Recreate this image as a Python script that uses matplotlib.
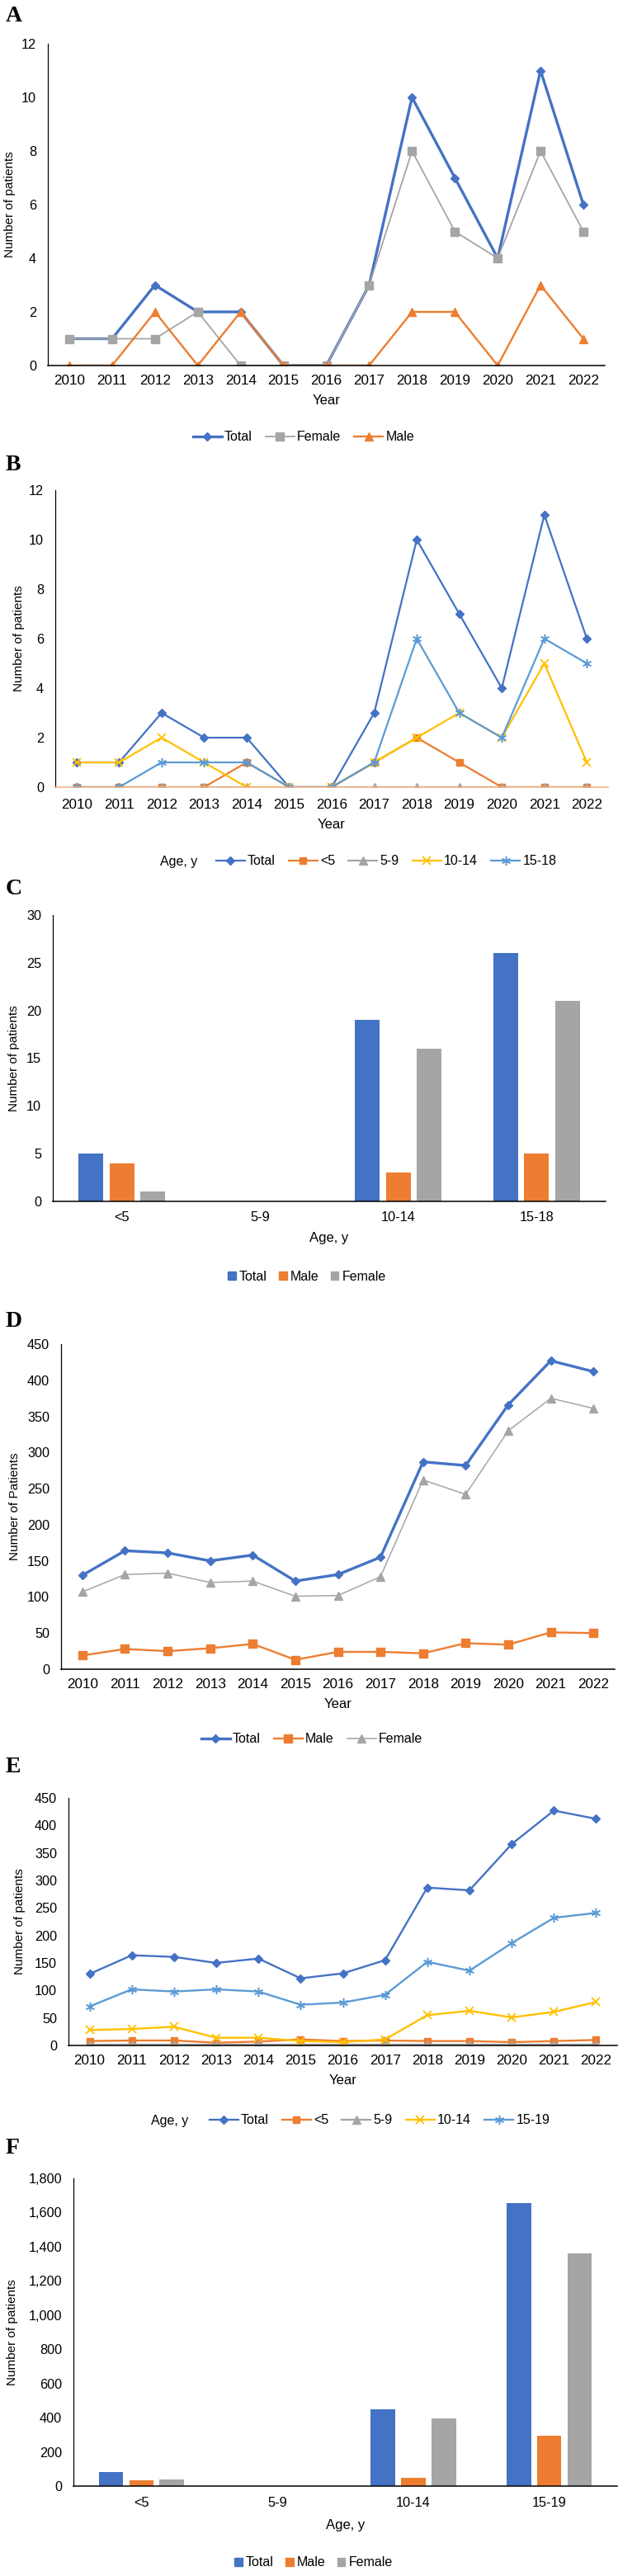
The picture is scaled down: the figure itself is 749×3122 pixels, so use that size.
import numpy as np
import matplotlib
matplotlib.use("Agg")
import matplotlib.pyplot as plt
from matplotlib.patches import Patch
from matplotlib.ticker import FuncFormatter

plt.rcParams['font.family'] = ['Liberation Sans', 'DejaVu Sans']

# ---- data ----
years = ['2010', '2011', '2012', '2013', '2014', '2015', '2016',
         '2017', '2018', '2019', '2020', '2021', '2022']

# A: by sex
a_total = [1, 1, 3, 2, 2, 0, 0, 3, 10, 7, 4, 11, 6]
a_female = [1, 1, 1, 2, 0, 0, 0, 3, 8, 5, 4, 8, 5]
a_male = [0, 0, 2, 0, 2, 0, 0, 0, 2, 2, 0, 3, 1]

# B: by age group
b_lt5 = [0, 0, 0, 0, 1, 0, 0, 1, 2, 1, 0, 0, 0]
b_5_9 = [0, 0, 0, 0, 0, 0, 0, 0, 0, 0, 0, 0, 0]
b_10_14 = [1, 1, 2, 1, 0, 0, 0, 1, 2, 3, 2, 5, 1]
b_15_18 = [0, 0, 1, 1, 1, 0, 0, 1, 6, 3, 2, 6, 5]

# C: totals by age group and sex
c_groups = ['<5', '5-9', '10-14', '15-18']
c_total = [5, 0, 19, 26]
c_male = [4, 0, 3, 5]
c_female = [1, 0, 16, 21]

# D: patients by sex
d_total = [130, 164, 161, 150, 158, 122, 131, 155, 287, 282, 366, 427, 412]
d_male = [19, 28, 25, 29, 35, 13, 24, 24, 22, 36, 34, 51, 50]
d_female = [107, 131, 133, 120, 122, 101, 102, 128, 262, 242, 330, 375, 361]

# E: patients by age group
e_lt5 = [8, 9, 9, 5, 7, 11, 8, 9, 8, 8, 6, 8, 10]
e_5_9 = [1, 1, 1, 1, 1, 1, 1, 1, 1, 1, 1, 1, 1]
e_10_14 = [28, 30, 34, 14, 14, 8, 6, 11, 55, 63, 51, 61, 79]
e_15_19 = [71, 102, 98, 102, 98, 74, 78, 92, 152, 136, 186, 232, 241]

# F: totals by age group and sex
f_groups = ['<5', '5-9', '10-14', '15-19']
f_total = [82, 0, 450, 1657]
f_male = [36, 0, 47, 294]
f_female = [41, 0, 394, 1360]

BLUE = '#4472C4'
ORANGE = '#ED7D31'
GRAY = '#A5A5A5'
GOLD = '#FFC000'
LBLUE = '#5B9BD5'

W, H = 749, 3122
fig = plt.figure(figsize=(W / 100, H / 100), dpi=100)


def add_ax(l, r, t, b):
    return fig.add_axes([l / W, 1 - b / H, (r - l) / W, (b - t) / H])


def style(ax, l, r, t, b, ylab_x, xlab_off, tick_off, xlabel, ylabel,
          bottom_color='black'):
    # xlab_off / tick_off: centre of the text, px below the x axis
    ax.spines['top'].set_visible(False)
    ax.spines['right'].set_visible(False)
    ax.spines['left'].set_linewidth(0.9)
    ax.spines['bottom'].set_linewidth(1.1)
    ax.spines['bottom'].set_color(bottom_color)
    ax.tick_params(axis='both', length=0)
    ax.tick_params(axis='y', pad=10, labelsize=11.7)
    ax.tick_params(axis='x', pad=(tick_off - 9.5) * 0.72, labelsize=12.3)
    ax.set_xlabel(xlabel, fontsize=12)
    ax.set_ylabel(ylabel, fontsize=11)
    ax.xaxis.set_label_coords(0.5, -(xlab_off - 9.5) / (b - t))
    ax.yaxis.set_label_coords((ylab_x + 7.5 - l) / (r - l), 0.5)


def panel_label(txt, y):
    fig.text(7 / W, 1 - y / H, txt, ha='left', va='center',
             fontsize=20, fontweight='bold', family='Liberation Serif')


def line_legend(handles, labels, x, y):
    fig.legend(handles, labels, loc='center', bbox_to_anchor=(x / W, 1 - y / H),
               ncol=len(labels), frameon=False, fontsize=11.5,
               handlelength=2.2, handletextpad=0.2, columnspacing=1.0)


def bar_legend(x, y):
    handles = [Patch(color=BLUE), Patch(color=ORANGE), Patch(color=GRAY)]
    fig.legend(handles, ['Total', 'Male', 'Female'], loc='center',
               bbox_to_anchor=(x / W, 1 - y / H), ncol=3, frameon=False,
               fontsize=11.5, handlelength=0.6, handleheight=0.6,
               handletextpad=0.25, columnspacing=0.9)


x = np.arange(len(years))

# ---------------- A ----------------
panel_label('A', 20)
ax = add_ax(58, 733, 53, 443)
h1, = ax.plot(x, a_total, color=BLUE, lw=2.4, marker='D', ms=5.5)
h2, = ax.plot(x, a_female, color=GRAY, lw=1.3, marker='s', ms=6.5)
h3, = ax.plot(x, a_male, color=ORANGE, lw=1.7, marker='^', ms=7)
ax.set_xlim(-0.5, 12.5)
ax.set_ylim(0, 12)
ax.set_yticks(range(0, 13, 2))
ax.set_xticks(x, years)
style(ax, 58, 733, 53, 443, 12, 44, 20, 'Year', 'Number of patients')
line_legend([h1, h2, h3], ['Total', 'Female', 'Male'], 368, 530)

# ---------------- B ----------------
panel_label('B', 563)
ax = add_ax(67, 737, 594, 954)
h1, = ax.plot(x, a_total, color=BLUE, lw=1.6, marker='D', ms=5.5)
h2, = ax.plot(x, b_lt5, color=ORANGE, lw=1.6, marker='s', ms=6)
h3, = ax.plot(x, b_5_9, color=GRAY, lw=1.6, marker='^', ms=6.5)
h4, = ax.plot(x, b_10_14, color=GOLD, lw=1.6, marker='x', ms=7, mew=1.3)
h5, = ax.plot(x, b_15_18, color=LBLUE, lw=1.6, marker=(6, 2, 0), ms=8, mew=1.1)
ax.set_xlim(-0.5, 12.5)
ax.set_ylim(0, 12)
ax.set_yticks(range(0, 13, 2))
ax.set_xticks(x, years)
style(ax, 67, 737, 594, 954, 22, 47, 23, 'Year', 'Number of patients',
      bottom_color='#F4B183')
line_legend([h1, h2, h3, h4, h5], ['Total', '<5', '5-9', '10-14', '15-18'], 468, 1044)
fig.text(239 / W, 1 - 1044 / H, 'Age, y', ha='right', va='center', fontsize=11.5)

# ---------------- C ----------------
panel_label('C', 1077)
ax = add_ax(64, 734, 1109, 1456)
xc = np.arange(len(c_groups))
bw, off = 0.18, 0.224
ax.bar(xc - off, c_total, bw, color=BLUE)
ax.bar(xc, c_male, bw, color=ORANGE)
ax.bar(xc + off, c_female, bw, color=GRAY)
ax.set_xlim(-0.5, 3.5)
ax.set_ylim(0, 30)
ax.set_yticks(range(0, 31, 5))
ax.set_xticks(xc, c_groups)
style(ax, 64, 734, 1109, 1456, 17, 46, 21, 'Age, y', 'Number of patients')
ax.tick_params(axis='x', labelsize=11.8)
bar_legend(372, 1547)

# ---------------- D ----------------
panel_label('D', 1602)
ax = add_ax(74, 745, 1629, 2023)
h1, = ax.plot(x, d_total, color=BLUE, lw=2.4, marker='D', ms=5.5)
h2, = ax.plot(x, d_male, color=ORANGE, lw=1.7, marker='s', ms=6.5)
h3, = ax.plot(x, d_female, color=GRAY, lw=1.1, marker='^', ms=7)
ax.set_xlim(-0.5, 12.5)
ax.set_ylim(0, 450)
ax.set_yticks(range(0, 451, 50))
ax.set_xticks(x, years)
style(ax, 74, 745, 1629, 2023, 18, 44, 20, 'Year', 'Number of Patients')
line_legend([h1, h2, h3], ['Total', 'Male', 'Female'], 378, 2108)

# ---------------- E ----------------
panel_label('E', 2142)
ax = add_ax(83, 748, 2179, 2479)
h1, = ax.plot(x, d_total, color=BLUE, lw=1.7, marker='D', ms=5.5)
h2, = ax.plot(x, e_lt5, color=ORANGE, lw=1.7, marker='s', ms=6)
h3, = ax.plot(x, e_5_9, color=GRAY, lw=1.7, marker='^', ms=6.5)
h4, = ax.plot(x, e_10_14, color=GOLD, lw=1.7, marker='x', ms=7, mew=1.3)
h5, = ax.plot(x, e_15_19, color=LBLUE, lw=1.7, marker=(6, 2, 0), ms=8, mew=1.1)
ax.set_xlim(-0.5, 12.5)
ax.set_ylim(0, 450)
ax.set_yticks(range(0, 451, 50))
ax.set_xticks(x, years)
style(ax, 83, 748, 2179, 2479, 24, 45, 20, 'Year', 'Number of patients')
line_legend([h1, h2, h3, h4, h5], ['Total', '<5', '5-9', '10-14', '15-19'], 460, 2570)
fig.text(228 / W, 1 - 2570 / H, 'Age, y', ha='right', va='center', fontsize=11.5)

# ---------------- F ----------------
panel_label('F', 2603)
ax = add_ax(89, 748, 2640, 3013)
xf = np.arange(len(f_groups))
ax.bar(xf - off, f_total, bw, color=BLUE)
ax.bar(xf, f_male, bw, color=ORANGE)
ax.bar(xf + off, f_female, bw, color=GRAY)
ax.set_xlim(-0.5, 3.5)
ax.set_ylim(0, 1800)
ax.set_yticks(range(0, 1801, 200))
ax.yaxis.set_major_formatter(FuncFormatter(lambda v, p: f'{int(v):,}'))
ax.set_xticks(xf, f_groups)
style(ax, 89, 748, 2640, 3013, 15, 49, 22, 'Age, y', 'Number of patients')
ax.tick_params(axis='x', labelsize=11.8)
bar_legend(380, 3106)

fig.savefig('out.png', dpi=100)
